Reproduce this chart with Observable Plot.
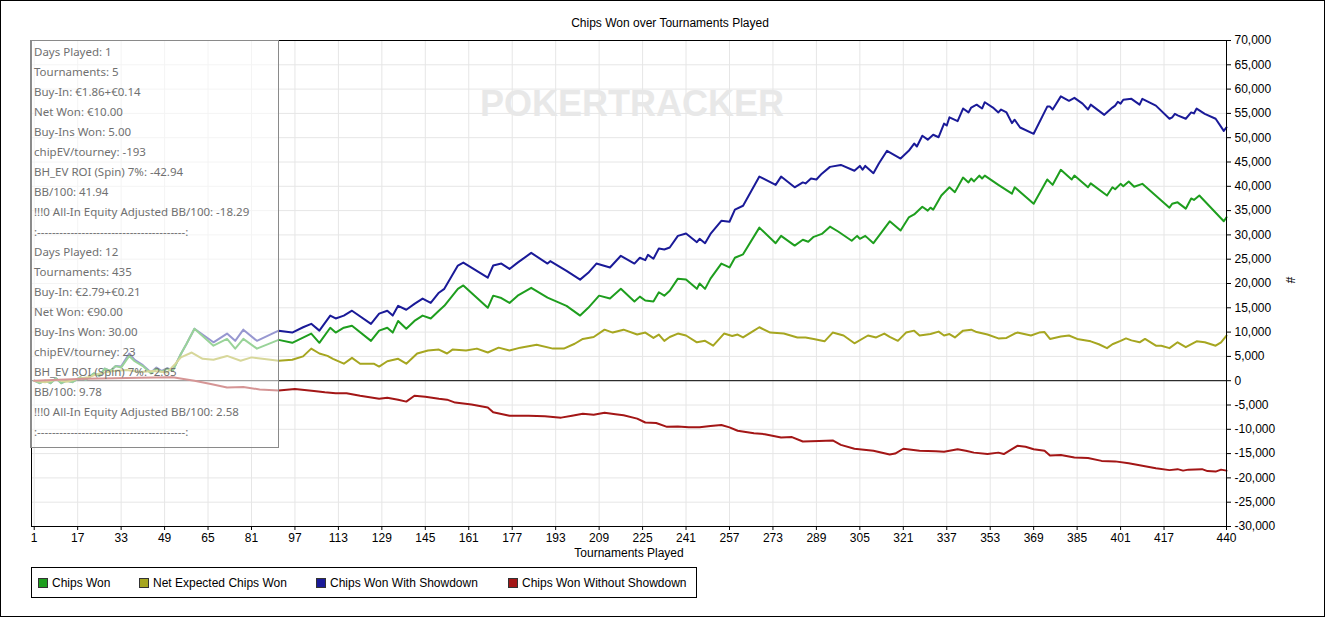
<!DOCTYPE html>
<html>
<head>
<meta charset="utf-8">
<script src="https://cdn.jsdelivr.net/npm/d3@7"></script>
<script src="https://cdn.jsdelivr.net/npm/@observablehq/plot@0.6"></script>
<style>
  html, body { margin: 0; padding: 0; background: #fff; }
  #wrap { position: relative; width: 1325px; height: 617px; overflow: hidden; background: #fff; }
  #chart { position: absolute; left: 0; top: 0; }
  #title { position: absolute; left: 0; top: 16px; width: 1340px; text-align: center; font: 12px "Liberation Sans", Arial, sans-serif; color: #000; }
  #tip { position: absolute; left: 30px; top: 40px; width: 249px; height: 408px; border: 1px solid #8a8a8a; background: rgba(255,255,255,0.55); box-sizing: border-box; padding: 1px 0 0 3px; font: 11.5px "Noto Sans", "Open Sans", sans-serif; color: #707070; line-height: 20px; white-space: pre; }
  #legend { position: absolute; left: 31px; top: 567px; width: 666px; height: 31px; border: 1px solid #000; box-sizing: border-box; font: 12px "Liberation Sans", Arial, sans-serif; }
  .li { position: absolute; top: 8px; height: 14px; line-height: 14px; white-space: nowrap; }
  .sw { display: inline-block; width: 8px; height: 8px; border: 1px solid #333; vertical-align: -1px; margin-right: 4px; }
  #border { position: absolute; left: 0; top: 0; width: 1325px; height: 617px; border: 1px solid #000; box-sizing: border-box; pointer-events: none; }
</style>
</head>
<body>
<div id="wrap">
  <div id="chart"></div>
  <div id="title"></div>
  <div id="tip"></div>
  <div id="legend"></div>
  <div id="border"></div>
</div>
<script>
// ---------- data ----------
const seriesNames = ["Chips Won", "Net Expected Chips Won", "Chips Won With Showdown", "Chips Won Without Showdown"];
const seriesColors = ["#1e9e1e", "#a6a620", "#1a1a98", "#a31616"];

const xTicks = [1,17,33,49,65,81,97,113,129,145,161,177,193,209,225,241,257,273,289,305,321,337,353,369,385,401,417,440];
const yTicks = [-30000,-25000,-20000,-15000,-10000,-5000,0,5000,10000,15000,20000,25000,30000,35000,40000,45000,50000,55000,60000,65000,70000];

const chipsWonT = [1,3,5,7,9,11,13,15,18,20,23,25,27,29,31,33,36,38,41,44,46,48,50,52,55,57,60,67,72,75,78,83,91,96,103,106,110,112,115,118,125,128,131,133,135,138,141,144,147,150,152,157,159,168,170,173,176,179,184,190,197,202,205,209,213,217,222,224,226,229,231,233,235,238,241,245,246,248,250,254,257,259,262,268,274,276,281,284,286,288,291,294,297,302,304,305,307,310,316,320,323,325,328,330,331,332,335,338,340,343,345,346,347,349,350,351,356,361,362,369,374,376,379,383,384,389,390,396,398,399,401,402,404,406,409,419,420,422,425,427,428,430,439,440];
const chipsWon  = [0,-500,0,-500,500,-500,0,-300,700,200,1500,1000,2500,2000,3000,2700,5100,4000,3000,1500,2500,1800,2500,2000,5500,7500,10700,7200,8600,6600,8600,6600,8400,7800,9700,7800,10900,9900,10900,11300,8200,10300,10900,9900,12300,10700,12300,13400,12800,14400,15400,18900,19600,15000,17500,17000,16000,17500,19100,17100,15400,13400,15000,17500,16900,18900,16300,17300,16500,16300,18200,17500,18500,21000,20800,18900,20000,18900,21000,24100,23300,25300,26000,31500,28300,29800,27800,29000,28600,29600,30200,31700,30700,28800,29800,29200,29800,28300,32800,30900,33600,34200,35800,35000,35600,35200,38100,39800,38800,41800,40800,41600,41000,42200,41600,42200,40300,38500,39800,36400,41400,40300,43400,41400,42200,39800,40600,38100,39800,39400,40500,40000,41000,39900,40500,35600,36400,36700,35400,37500,37200,38100,32800,33600];

const netExpT = [1,5,9,13,17,21,25,30,35,40,45,50,53,55,59,63,67,72,77,81,85,91,96,100,103,106,109,111,115,118,121,126,128,131,135,138,142,146,150,153,155,160,164,168,172,176,180,186,192,196,200,203,207,211,214,218,223,226,229,231,233,235,238,241,245,248,251,255,258,260,262,266,268,272,277,282,285,288,292,295,299,303,308,311,314,316,319,322,325,327,331,334,336,338,340,343,346,348,352,356,359,362,363,368,371,373,375,379,382,385,390,393,396,398,401,403,405,408,410,414,416,419,422,425,429,432,436,438,440];
const netExp  = [0,-300,200,-200,400,700,1500,2000,2200,1800,2000,1700,3500,4800,5800,4500,4300,5100,4100,4800,4500,4100,4300,5000,6600,5600,5100,4500,3500,4700,3500,3500,2900,4000,4500,3500,5600,6200,6400,5600,6400,6200,6600,5800,6800,6200,6800,7400,6600,6600,7600,8600,9000,10500,9900,10500,9500,9900,8800,9500,8200,9000,9700,9300,7900,8200,7200,9700,9200,9500,8900,10300,11000,9900,9700,8900,8900,8600,8100,9900,9300,7700,9300,8900,9700,9000,8200,9900,10300,9300,9600,10100,9300,9600,8900,10300,10500,10000,9500,8700,8800,9700,9900,9300,9900,10000,8600,9100,9300,8600,8100,7500,6700,7500,8200,8700,8300,7900,8600,7200,7200,6700,7900,6900,8100,7900,7200,7900,9300];

const withSdT = [1,3,5,7,9,11,13,15,18,20,23,25,27,29,31,33,36,38,41,44,46,48,50,52,55,57,60,67,72,75,78,83,91,96,100,103,106,110,112,115,118,125,128,131,133,135,138,141,144,147,150,152,157,159,168,170,173,176,179,184,190,191,197,202,205,208,213,217,222,224,226,227,229,231,233,235,238,241,245,246,248,250,254,257,259,262,268,274,276,281,284,285,287,289,291,294,298,303,305,306,307,310,312,315,320,323,325,326,328,330,332,334,336,337,338,341,343,345,346,348,350,351,354,356,357,359,361,362,364,369,374,375,376,379,382,384,387,389,390,395,398,399,400,401,402,405,408,409,414,419,420,421,422,425,427,428,429,432,436,439,440];
const withSd  = [0,-500,0,-500,500,-500,0,-300,700,200,1500,1000,2500,2000,3000,2900,5600,4300,3200,1700,2700,2000,2600,2100,5500,7500,10700,7900,9700,8200,10500,8200,10300,9900,11000,11700,10300,13400,12800,13400,14400,11700,13800,14400,13400,15400,14600,15800,16900,16000,18100,18900,23700,24300,21200,23700,24100,23000,24300,26300,24100,24600,22600,20800,22200,24100,23300,25700,24100,25300,24800,25900,25100,27200,27000,27400,29800,30300,28500,29200,28300,30200,32900,32700,35200,36000,42000,40300,42000,39800,40800,40600,41600,41400,42600,44000,44400,43200,44200,43400,44200,42700,44700,47300,45700,47300,48800,48200,50400,49600,50600,50100,52900,52500,54200,53400,56000,55200,56200,56800,56000,57300,56200,55200,55800,55200,53000,53700,52100,50800,56400,56400,55800,58500,57600,58200,57000,55800,56800,54700,56200,56600,57400,57000,57800,58000,56800,58000,56600,53900,54200,54900,54600,53900,55200,55000,56000,54900,53900,51400,52100];

const withoutSdT = [1,10,20,30,40,52,60,66,72,78,84,91,97,104,108,112,116,121,128,131,135,138,141,145,150,153,156,162,168,170,176,183,189,195,199,203,207,211,215,218,223,226,230,234,238,242,246,250,254,257,260,266,270,276,280,284,290,295,298,303,310,316,318,321,327,333,336,341,344,347,352,356,358,361,363,366,369,373,375,379,384,389,394,399,404,409,414,419,422,424,426,431,433,436,438,440];
const withoutSd  = [0,200,400,500,600,700,0,-700,-1400,-1300,-1800,-2000,-1700,-2100,-2400,-2600,-2600,-3100,-3700,-3500,-3900,-4300,-3100,-3300,-3700,-3900,-4500,-4900,-5500,-6500,-7200,-7200,-7300,-7600,-7200,-6800,-7000,-6600,-6900,-7100,-7800,-8600,-8700,-9500,-9400,-9600,-9600,-9300,-9100,-9600,-10300,-10800,-11000,-11700,-11600,-12500,-12400,-12300,-13200,-14000,-14400,-15200,-15000,-14000,-14400,-14500,-14600,-14100,-14400,-14800,-15100,-14800,-15100,-14100,-13400,-13600,-14100,-14400,-15400,-15300,-15800,-15900,-16500,-16600,-17000,-17500,-18000,-18400,-18200,-18500,-18300,-18200,-18600,-18700,-18300,-18500];

const tipLines = [
  "Days Played: 1", "Tournaments: 5", "Buy-In: €1.86+€0.14", "Net Won: €10.00", "Buy-Ins Won: 5.00",
  "chipEV/tourney: -193", "BH_EV ROI (Spin) 7%: -42.94", "BB/100: 41.94", "!!!0 All-In Equity Adjusted BB/100: -18.29",
  ":----------------------------------------:",
  "Days Played: 12", "Tournaments: 435", "Buy-In: €2.79+€0.21", "Net Won: €90.00", "Buy-Ins Won: 30.00",
  "chipEV/tourney: 23", "BH_EV ROI (Spin) 7%: -2.65", "BB/100: 9.78", "!!!0 All-In Equity Adjusted BB/100: 2.58",
  ":----------------------------------------:"
];
const titleText = "Chips Won over Tournaments Played";
const xLabel = "Tournaments Played";
const yLabel = "#";
const watermark = "POKERTRACKER";

// ---------- build ----------
function rows(ts, vs, s) { return ts.map((t, i) => ({t, v: vs[i], s})); }
const data = [
  ...rows(withSdT, withSd, seriesNames[2]),
  ...rows(chipsWonT, chipsWon, seriesNames[0]),
  ...rows(netExpT, netExp, seriesNames[1]),
  ...rows(withoutSdT, withoutSd, seriesNames[3])
];
const fmt = d => d.toLocaleString("en-US");

const chart = Plot.plot({
  width: 1325,
  height: 565,
  marginTop: 40,
  marginBottom: 39,
  marginLeft: 31,
  marginRight: 99,
  style: { fontFamily: "'Liberation Sans', Arial, sans-serif", fontSize: "12px", background: "white", color: "black" },
  x: { domain: [0, 440] },
  y: { domain: [-30000, 70000] },
  color: { domain: seriesNames, range: seriesColors },
  marks: [
    Plot.gridX(xTicks, { stroke: "#e6e6e6", strokeOpacity: 1 }),
    Plot.gridY(yTicks, { stroke: "#e6e6e6", strokeOpacity: 1 }),
    Plot.text([watermark], { frameAnchor: "top", dx: 3, dy: 50, fill: "#e8e8e8", fontSize: 36, fontWeight: "bold", fontFamily: "'Liberation Sans', Arial, sans-serif" }),
    Plot.ruleY([0], { stroke: "black", strokeWidth: 1 }),
    Plot.line(data, { x: "t", y: "v", z: "s", stroke: "s", strokeWidth: 2, curve: "linear" }),
    Plot.frame({ stroke: "black" }),
    Plot.axisY(yTicks, { anchor: "right", tickSize: 4, tickPadding: 4, tickFormat: fmt, label: null, fill: "black" }),
    Plot.axisX(xTicks, { anchor: "bottom", tickSize: 4, tickPadding: 3, tickFormat: d => String(d), label: null, fill: "black" }),
    Plot.text([xLabel], { frameAnchor: "bottom", dy: 30, fill: "black" }),
    Plot.text([yLabel], { frameAnchor: "right", dx: 63, rotate: 90, fill: "black" })
  ]
});
document.getElementById("chart").appendChild(chart);

document.getElementById("title").textContent = titleText;
document.getElementById("tip").textContent = tipLines.join("\n");

const legendX = [6, 107, 284, 476];
const legend = document.getElementById("legend");
seriesNames.forEach((n, i) => {
  const d = document.createElement("div");
  d.className = "li";
  d.style.left = legendX[i] + "px";
  const sw = document.createElement("span");
  sw.className = "sw";
  sw.style.background = seriesColors[i];
  d.appendChild(sw);
  d.appendChild(document.createTextNode(n));
  legend.appendChild(d);
});
</script>
</body>
</html>
